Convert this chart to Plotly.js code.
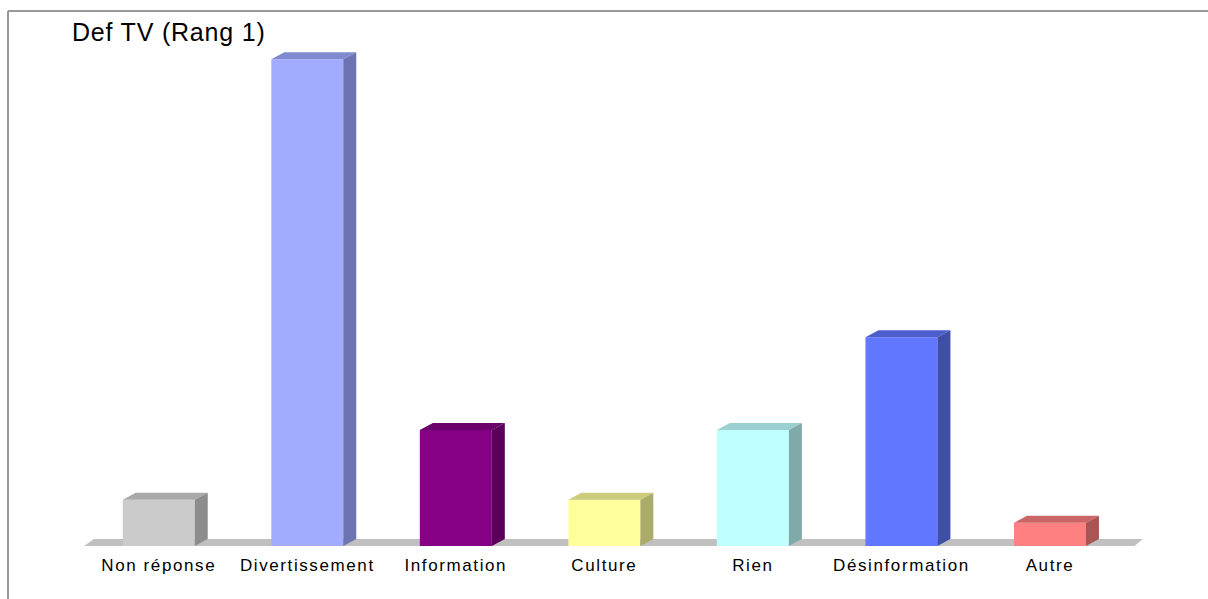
<!DOCTYPE html>
<html>
<head>
<meta charset="utf-8">
<script src="https://cdn.plot.ly/plotly-3.0.1.min.js"></script>
<style>
html, body { margin: 0; padding: 0; background: #fff; }
#chart { width: 1208px; height: 599px; }
#chart .xtick text { letter-spacing: 1.6px; }
#chart .gtitle { letter-spacing: 0.8px; }
</style>
</head>
<body>
<div id="chart"></div>
<script>
// ---- data ----
var categories = ["Non réponse", "Divertissement", "Information", "Culture", "Rien", "Désinformation", "Autre"];
var values = [2, 21, 5, 2, 5, 9, 1];
var frontColors = ["#cbcbcb", "#a1acff", "#860086", "#ffff9c", "#c0ffff", "#6177ff", "#ff8080"];
var topColors   = ["#a9a9a9", "#7f8ad0", "#6a006a", "#cccc7c", "#9ccfcf", "#4d5ecc", "#cc6666"];
var sideColors  = ["#8d8d8d", "#6b74b0", "#5a005a", "#acac6a", "#80aaaa", "#3f4fa8", "#aa5555"];
var chartTitle = "Def TV (Rang 1)";

// ---- layout geometry ----
var W = 1208, H = 599;
var mL = 83, mR = 60, mT = 36, mB = 53;
var xRange = [-0.51, 6.66];
var yRange = [0, 22];
var barWidth = 0.4845;
var depthPx = {x: 13, y: 7};
var plotW = W - mL - mR, plotH = H - mT - mB;
var pxPerX = plotW / (xRange[1] - xRange[0]);
var pxPerY = plotH / (yRange[1] - yRange[0]);
var dx = depthPx.x / pxPerX, dy = depthPx.y / pxPerY;

var idx = categories.map(function (_, i) { return i; });

var shapes = [];
// floor
var fl = -0.5 - 0.003, fr = 6.5 + 0.07;
shapes.push({
  type: 'path', xref: 'x', yref: 'y', layer: 'below',
  path: 'M' + fl + ',0 L' + fr + ',0 L' + (fr + 0.055) + ',' + dy + ' L' + (fl + 0.067) + ',' + dy + ' Z',
  fillcolor: '#c0c0c0', line: {width: 0}
});
// 3D faces of bars
idx.forEach(function (i) {
  var v = values[i];
  var xl = i - barWidth / 2, xr = i + barWidth / 2;
  shapes.push({
    type: 'path', xref: 'x', yref: 'y', layer: 'above',
    path: 'M' + xl + ',' + v + ' L' + (xl + dx) + ',' + (v + dy) + ' L' + (xr + dx) + ',' + (v + dy) + ' L' + xr + ',' + v + ' Z',
    fillcolor: topColors[i], line: {width: 0}
  });
  shapes.push({
    type: 'path', xref: 'x', yref: 'y', layer: 'above',
    path: 'M' + xr + ',0 L' + (xr + dx) + ',' + dy + ' L' + (xr + dx) + ',' + (v + dy) + ' L' + xr + ',' + v + ' Z',
    fillcolor: sideColors[i], line: {width: 0}
  });
});
// outer frame (left and top border)
var fx = (8 - mL) / plotW, fy = 1 + (mT - 11) / plotH;
shapes.push({type: 'line', xref: 'paper', yref: 'paper', x0: fx, x1: fx, y0: fy, y1: -0.2, line: {color: '#999999', width: 2}});
shapes.push({type: 'line', xref: 'paper', yref: 'paper', x0: fx, x1: 1.2, y0: fy, y1: fy, line: {color: '#999999', width: 2}});

var trace = {
  type: 'bar',
  x: idx,
  y: values,
  width: barWidth,
  marker: {color: frontColors, line: {width: 0}},
  hoverinfo: 'skip'
};

var layout = {
  width: W, height: H,
  margin: {l: mL, r: mR, t: mT, b: mB, pad: 0},
  paper_bgcolor: '#ffffff',
  plot_bgcolor: 'rgba(0,0,0,0)',
  showlegend: false,
  title: {
    text: chartTitle,
    font: {family: 'Liberation Sans, Arial, sans-serif', size: 25, color: '#000000'},
    x: 72 / W, xanchor: 'left', xref: 'container',
    y: 1 - 32 / H, yanchor: 'middle', yref: 'container'
  },
  xaxis: {
    range: xRange,
    tickvals: idx,
    ticktext: categories,
    showgrid: false, zeroline: false, showline: false, ticks: '',
    tickfont: {family: 'Liberation Sans, Arial, sans-serif', size: 17, color: '#000000'},
    ticklabelstandoff: 7
  },
  yaxis: {
    range: yRange,
    showgrid: false, zeroline: false, showline: false, showticklabels: false, ticks: ''
  },
  shapes: shapes
};

Plotly.newPlot('chart', [trace], layout, {staticPlot: true, displayModeBar: false});
</script>
</body>
</html>
